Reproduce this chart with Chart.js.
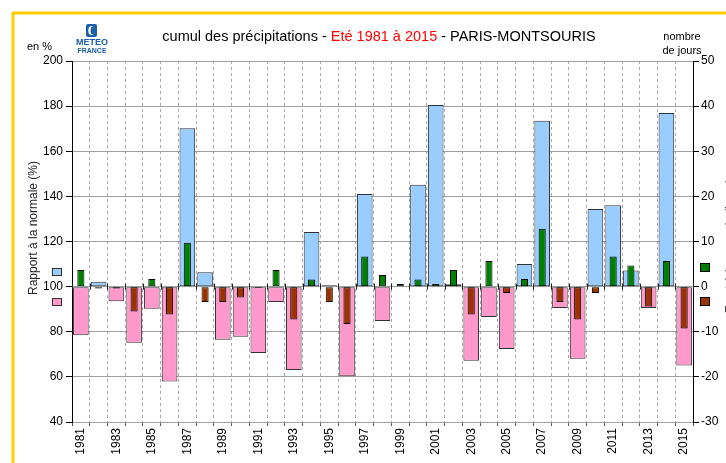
<!DOCTYPE html>
<html>
<head>
<meta charset="utf-8">
<script src="https://cdn.jsdelivr.net/npm/chart.js@4.4.1/dist/chart.umd.min.js"></script>
<style>
  html, body { margin: 0; padding: 0; background: #fff; }
  #wrap { width: 726px; height: 463px; position: relative; }
</style>
</head>
<body>
<div id="wrap"><canvas id="c" width="726" height="463"></canvas></div>
<script>
// ---- data ----
const years = ['1981','1982','1983','1984','1985','1986','1987','1988','1989','1990',
  '1991','1992','1993','1994','1995','1996','1997','1998','1999','2000',
  '2001','2002','2003','2004','2005','2006','2007','2008','2009','2010',
  '2011','2012','2013','2014','2015'];
// cumul des précipitations, rapport à la normale (%)
const precipRatio = [78.5, 102.2, 93.5, 75.1, 90.2, 58.0, 170.2, 106.4, 76.4, 77.8,
  70.6, 93.2, 63.0, 124.2, 100.6, 60.3, 141.0, 84.8, 100.0, 145.1,
  180.5, 101.0, 67.1, 86.5, 72.4, 110.0, 173.5, 90.5, 68.0, 134.4,
  136.1, 107.1, 90.5, 177.0, 65.0];
// écart du nombre de jours de pluie (jours)
const rainDays = [3.7, -0.4, -0.4, -5.5, 1.7, -6.2, 9.7, -3.4, -3.4, -2.4,
  -0.3, 3.7, -7.3, 1.6, -3.4, -8.3, 6.7, 2.6, 0.6, 1.6,
  0.6, 3.7, -6.2, 5.7, -1.4, 1.7, 12.8, -3.4, -7.3, -1.4,
  6.7, 4.7, -4.4, 5.7, -9.3];
// tick labels on the bottom axis (every other year)
const yearTickLabels = years.map((y, i) => (i % 2 === 0 ? y : ''));
const leftTicks = { min: 40, max: 200, step: 20 };
const rightTicks = { min: -30, max: 50, step: 10 };

const FONT = '"Liberation Sans", Arial, sans-serif';

const decor = {
  id: 'decor',
  beforeDraw(chart) {
    const ctx = chart.ctx;
    ctx.save();
    ctx.fillStyle = '#fff';
    ctx.fillRect(0, 0, chart.width, chart.height);
    // yellow frame
    ctx.strokeStyle = '#FFCC00';
    ctx.lineWidth = 3;
    ctx.beginPath();
    ctx.moveTo(13, 470);
    ctx.lineTo(13, 13);
    ctx.lineTo(740, 13);
    ctx.stroke();
    ctx.restore();
  },
  afterDatasetsDraw(chart) {
    const ctx = chart.ctx;
    const x = chart.scales.x, y = chart.scales.y;
    const y100 = y.getPixelForValue(100);
    const half = (x.getPixelForValue(1) - x.getPixelForValue(0)) / 2;
    ctx.save();
    ctx.strokeStyle = '#222';
    ctx.lineWidth = 1;
    ctx.beginPath();
    for (let i = 0; i <= years.length; i++) {
      const px = Math.round(x.getPixelForValue(i) - half) + 0.5;
      ctx.moveTo(px, y100 - 3);
      ctx.lineTo(px, y100 + 3);
    }
    ctx.stroke();
    ctx.restore();
  },
  afterDraw(chart) {
    const ctx = chart.ctx;
    ctx.save();
    // title
    ctx.font = '14.5px ' + FONT;
    ctx.textBaseline = 'middle';
    ctx.textAlign = 'left';
    const parts = [
      ['cumul des précipitations - ', '#000'],
      ['Eté 1981 à 2015', '#FF0000'],
      [' - PARIS-MONTSOURIS', '#000']
    ];
    let total = 0;
    parts.forEach(p => total += ctx.measureText(p[0]).width);
    let tx = 379 - total / 2;
    parts.forEach(p => {
      ctx.fillStyle = p[1];
      ctx.fillText(p[0], tx, 37);
      tx += ctx.measureText(p[0]).width;
    });

    // small labels
    ctx.fillStyle = '#000';
    ctx.font = '11px ' + FONT;
    ctx.textAlign = 'left';
    ctx.fillText('en %', 27, 47);
    ctx.textAlign = 'center';
    ctx.fillText('nombre', 682, 37);
    ctx.fillText('de jours', 682, 51);

    // left axis title
    ctx.save();
    ctx.translate(34, 228);
    ctx.rotate(-Math.PI / 2);
    ctx.font = '12px ' + FONT;
    ctx.textAlign = 'center';
    ctx.fillStyle = '#222';
    ctx.fillText('Rapport à la normale (%)', 0, 0);
    ctx.restore();

    // right axis title (mostly cut off)
    ctx.save();
    ctx.translate(731, 246);
    ctx.rotate(-Math.PI / 2);
    ctx.font = '12px ' + FONT;
    ctx.textAlign = 'center';
    ctx.fillStyle = '#444';
    ctx.fillText('Ecart à la normale (jours)', 0, 0);
    ctx.restore();

    // legend squares
    const sq = (x0, y0, w, h, fill, stroke) => {
      ctx.fillStyle = fill;
      ctx.fillRect(x0, y0, w, h);
      ctx.strokeStyle = stroke;
      ctx.lineWidth = 1;
      ctx.strokeRect(x0 + 0.5, y0 + 0.5, w - 1, h - 1);
    };
    sq(52, 268, 10, 8, '#99CCFF', '#333');
    sq(52, 298, 10, 8, '#FF99CC', '#333');
    sq(700, 263, 10, 9, '#008000', '#000');
    sq(700, 297, 10, 9, '#993300', '#000');

    // Météo-France logo
    ctx.fillStyle = '#1b5fa6';
    ctx.beginPath();
    ctx.roundRect(86, 24, 11, 13, 2);
    ctx.fill();
    ctx.fillStyle = '#fff';
    ctx.beginPath();
    ctx.ellipse(91.5, 30.5, 3.2, 4.6, 0, 0, Math.PI * 2);
    ctx.fill();
    ctx.fillStyle = '#1b5fa6';
    ctx.beginPath();
    ctx.ellipse(92.8, 30.5, 2.2, 4.0, 0, 0, Math.PI * 2);
    ctx.fill();
    ctx.fillStyle = '#1b5fa6';
    ctx.textAlign = 'center';
    ctx.font = 'bold 9px ' + FONT;
    ctx.fillText('METEO', 92, 43);
    ctx.font = 'bold 7px ' + FONT;
    ctx.fillText('FRANCE', 92, 51);
    ctx.restore();
  }
};

new Chart(document.getElementById('c'), {
  type: 'bar',
  data: {
    labels: years,
    datasets: [
      {
        label: 'nombre de jours',
        data: rainDays,
        yAxisID: 'y2',
        order: 1,
        grouped: false,
        barPercentage: 0.4,
        categoryPercentage: 1,
        backgroundColor: rainDays.map(v => v >= 0 ? '#008000' : '#993300'),
        borderColor: '#000',
        borderWidth: 1,
        borderSkipped: false
      },
      {
        label: 'rapport à la normale',
        data: precipRatio,
        base: 100,
        yAxisID: 'y',
        order: 2,
        grouped: false,
        barPercentage: 0.88,
        categoryPercentage: 1,
        backgroundColor: precipRatio.map(v => v >= 100 ? '#99CCFF' : '#FF99CC'),
        borderColor: '#333',
        borderWidth: 1,
        borderSkipped: false
      }
    ]
  },
  options: {
    responsive: false,
    animation: false,
    layout: { padding: { top: 61, left: 0, right: 0, bottom: 0 } },
    plugins: { legend: { display: false }, tooltip: { enabled: false }, title: { display: false } },
    scales: {
      x: {
        offset: true,
        grid: { offset: true, color: '#a8a8a8', lineWidth: 1, drawTicks: true, tickLength: 4, tickColor: '#555', tickBorderDash: [] },
        border: { display: false, dash: [3, 3] },
        ticks: {
          autoSkip: false, maxRotation: 90, minRotation: 90, padding: 2,
          font: { size: 12, family: FONT }, color: '#000',
          callback: (v, i) => yearTickLabels[i]
        },
        afterFit: s => { s.height = 41; }
      },
      y: {
        position: 'left',
        min: leftTicks.min, max: leftTicks.max,
        ticks: { stepSize: leftTicks.step, padding: 3, font: { size: 12, family: FONT }, color: '#000' },
        grid: { color: '#a0a0a0', lineWidth: 1, tickColor: '#000', tickLength: 6 },
        border: { color: '#000', width: 1 },
        afterFit: s => { s.width = 72; }
      },
      y2: {
        position: 'right',
        min: rightTicks.min, max: rightTicks.max,
        ticks: { stepSize: rightTicks.step, padding: 2, font: { size: 12, family: FONT }, color: '#000' },
        grid: { drawOnChartArea: false, tickColor: '#000', tickLength: 6 },
        border: { color: '#000', width: 1 },
        afterFit: s => { s.width = 33; }
      }
    }
  },
  plugins: [decor]
});
</script>
</body>
</html>
